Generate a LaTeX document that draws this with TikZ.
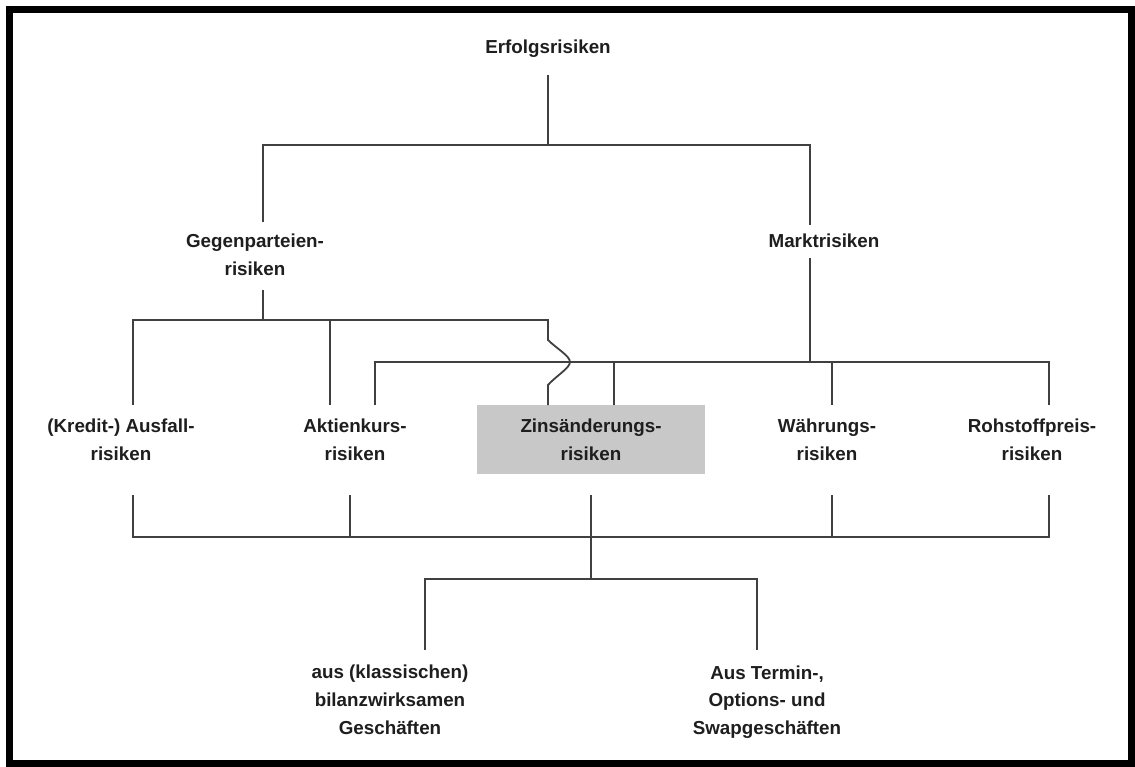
\documentclass[tikz,border=0pt]{standalone}
\usepackage{fontspec}
\setmainfont{Liberation Sans}
\definecolor{boxgray}{RGB}{200,200,200}
\definecolor{linegray}{RGB}{64,64,64}
\definecolor{textgray}{RGB}{30,30,30}
\begin{document}
\begin{tikzpicture}[x=1pt,y=-1pt,
  lbl/.style={align=center,inner sep=0pt,text=textgray,font=\bfseries\fontsize{18.8}{27.8}\selectfont},
  conn/.style={draw=linegray,line width=1.8pt},
  frame/.style={draw=black,line width=7pt}]
\useasboundingbox (0,0) rectangle (1135,767);
\fill[white] (0,0) rectangle (1135,767);
\draw[frame] (9.5,9.5) rectangle (1131.5,763.5);

% nodes
\node[lbl] (erf) at (548,49) {Erfolgsrisiken};
\node[lbl] (gp) at (255,255) {Gegenparteien-\\risiken};
\node[lbl] (mr) at (824,241) {Marktrisiken};
\node[lbl] (kr) at (121,440) {(Kredit-) Ausfall-\\risiken};
\node[lbl] (ak) at (355,440) {Aktienkurs-\\risiken};
\node[lbl,fill=boxgray,minimum width=228pt,minimum height=69pt] (zi) at (591,439.5) {Zinsänderungs-\\risiken};
\node[lbl] (wa) at (827,440) {Währungs-\\risiken};
\node[lbl] (ro) at (1032,440) {Rohstoffpreis-\\risiken};
\node[lbl] (bi) at (390,700) {aus (klassischen)\\bilanzwirksamen\\Geschäften};
\node[lbl] (te) at (767,702) {Aus Termin-,\\Options- und\\Swapgeschäften};

% junction coordinates
\coordinate (erfB) at (548,75);
\coordinate (j1) at (548,145);
\coordinate (gpT) at (263,222);
\coordinate (mrT) at (810,225);
\coordinate (gpB) at (263,290);
\coordinate (j2) at (263,320);
\coordinate (mrB) at (810,258);
\coordinate (j3) at (810,362);
\coordinate (krT) at (133,405);
\coordinate (akT) at (330,405);
\coordinate (akT2) at (375,405);
\coordinate (ziT) at (548,405);
\coordinate (ziT2) at (614,405);
\coordinate (waT) at (832,405);
\coordinate (roT) at (1049,405);
\coordinate (krB) at (133,495);
\coordinate (akB) at (350,495);
\coordinate (ziB) at (591,495);
\coordinate (waB) at (832,495);
\coordinate (roB) at (1049,495);
\coordinate (j4) at (591,537);
\coordinate (j5) at (591,579);
\coordinate (biT) at (425,650);
\coordinate (teT) at (757,650);

% level 1
\draw[conn] (erfB) -- (j1);
\draw[conn] (gpT) |- (j1) -| (mrT);
% Gegenparteienrisiken
\draw[conn] (gpB) -- (j2);
\draw[conn] (krT) |- (j2);
\draw[conn] (j2) -| (akT);
\draw[conn] (j2) -| (548,340) .. controls (556,348) and (570,356) .. (570,362)
  .. controls (570,368) and (556,376) .. (548,385) -- (ziT);
% Marktrisiken
\draw[conn] (mrB) -- (j3);
\draw[conn] (akT2) |- (j3) -| (roT);
\draw[conn] (ziT2) -- (ziT2 |- j3);
\draw[conn] (waT) -- (waT |- j3);
% bottom collector
\draw[conn] (krB) |- (j4) -| (roB);
\draw[conn] (akB) -- (akB |- j4);
\draw[conn] (waB) -- (waB |- j4);
\draw[conn] (ziB) -- (j5);
\draw[conn] (biT) |- (j5) -| (teT);
\end{tikzpicture}
\end{document}
